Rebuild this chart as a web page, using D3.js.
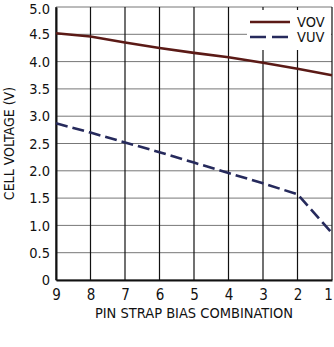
<!DOCTYPE html>
<html>
<head>
<meta charset="utf-8">
<script src="https://cdn.jsdelivr.net/npm/d3@7"></script>
<style>
  body { margin: 0; background: #fff; }
  text { font-family: "DejaVu Sans Condensed", "Liberation Sans Narrow", sans-serif; fill: #111; }
</style>
</head>
<body>
<svg width="334" height="347"></svg>
<script>
// pin strap combinations, read right to left on the chart
let combos = [9, 8, 7, 6, 5, 4, 3, 2, 1];
let vov = [4.52, 4.46, 4.35, 4.25, 4.16, 4.08, 3.98, 3.87, 3.75];
let vuv = [2.87, 2.70, 2.52, 2.34, 2.15, 1.96, 1.77, 1.57, 0.86];
let yTicks = [0, 0.5, 1.0, 1.5, 2.0, 2.5, 3.0, 3.5, 4.0, 4.5, 5.0];
let seriesNames = ["VOV", "VUV"];

let svg = d3.select("svg");
let width = +svg.attr("width");
let height = +svg.attr("height");
let margin = { top: 7, right: 2, bottom: 67, left: 56 };

let x = d3.scaleLinear().domain([9, 1]).range([margin.left, width - margin.right]);
let y = d3.scaleLinear().domain([0, 5]).range([height - margin.bottom, margin.top]);

let colors = { VOV: "#5b1a16", VUV: "#262a5c" };

// horizontal grid (grey)
svg.append("g")
    .selectAll("line")
    .data(yTicks)
    .enter()
    .append("line")
    .attr("x1", x(9))
    .attr("x2", x(1))
    .attr("y1", (d) => y(d))
    .attr("y2", (d) => y(d))
    .attr("stroke", "#777")
    .attr("stroke-width", 1);

// vertical grid (black)
svg.append("g")
    .selectAll("line")
    .data(combos)
    .enter()
    .append("line")
    .attr("x1", (d) => x(d))
    .attr("x2", (d) => x(d))
    .attr("y1", y(0))
    .attr("y2", y(5))
    .attr("stroke", "#111")
    .attr("stroke-width", 1.2);

// legend box covers the grid in the top right corner
svg.append("rect")
    .attr("x", 247)
    .attr("y", 10)
    .attr("width", x(1) - 248)
    .attr("height", 40)
    .attr("fill", "#fff");

// axes
let yAxis = d3.axisLeft(y).tickValues(yTicks).tickSize(0).tickPadding(6)
    .tickFormat((d) => d === 0 ? "0" : d3.format(".1f")(d));
let xAxis = d3.axisBottom(x).tickValues(combos).tickSize(0).tickPadding(9)
    .tickFormat(d3.format("d"));

svg.append("g")
    .attr("transform", `translate(${margin.left},0)`)
    .call(yAxis)
    .call((g) => g.select(".domain").attr("stroke", "#111").attr("stroke-width", 2))
    .selectAll("text")
    .attr("font-size", 14.5)
    .attr("dy", (d) => d === 5 ? "0.45em" : "0.32em");

svg.append("g")
    .attr("transform", `translate(0,${height - margin.bottom})`)
    .call(xAxis)
    .call((g) => g.select(".domain").attr("stroke", "#111").attr("stroke-width", 2))
    .selectAll("text")
    .attr("font-size", 15)
    .attr("dx", (d) => d === 1 ? -4 : 0);

// axis titles
svg.append("text")
    .attr("transform", `translate(14,${y(2.5)}) rotate(-90)`)
    .attr("text-anchor", "middle")
    .attr("font-size", 14)
    .text("CELL VOLTAGE (V)");

svg.append("text")
    .attr("x", (x(9) + x(1)) / 2)
    .attr("y", 318)
    .attr("text-anchor", "middle")
    .attr("font-size", 14.5)
    .text("PIN STRAP BIAS COMBINATION");

// series lines
let line = d3.line()
    .x((d) => x(d[0]))
    .y((d) => y(d[1]));

svg.append("path")
    .datum(d3.zip(combos, vov))
    .attr("fill", "none")
    .attr("stroke", colors.VOV)
    .attr("stroke-width", 2.6)
    .attr("d", line);

svg.append("path")
    .datum(d3.zip(combos, vuv))
    .attr("fill", "none")
    .attr("stroke", colors.VUV)
    .attr("stroke-width", 2.6)
    .attr("stroke-dasharray", "12,5")
    .attr("d", line);

// legend
let legend = svg.append("g")
    .selectAll("g")
    .data(seriesNames)
    .enter()
    .append("g")
    .attr("transform", (d, i) => `translate(250,${22 + i * 15})`);

legend.append("line")
    .attr("x1", 0)
    .attr("x2", 40)
    .attr("stroke", (d) => colors[d])
    .attr("stroke-width", 2.6)
    .attr("stroke-dasharray", (d) => d === "VUV" ? "16,6" : null);

legend.append("text")
    .attr("x", 47)
    .attr("y", 5)
    .attr("font-size", 14.5)
    .text((d) => d);
</script>
</body>
</html>
